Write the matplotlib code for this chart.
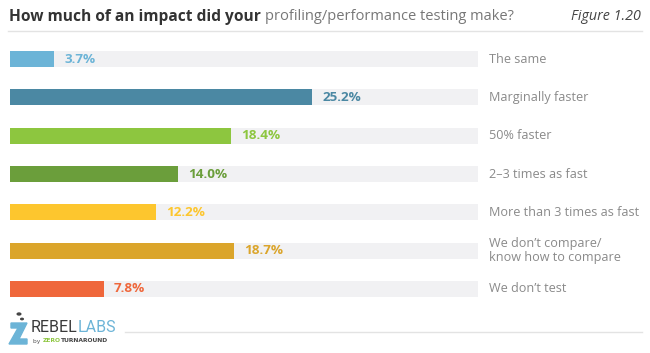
import matplotlib.pyplot as plt
from matplotlib.patches import Polygon, Circle

categories = ["The same", "Marginally faster", "50% faster", "2\u20133 times as fast",
              "More than 3 times as fast", "We don\u2019t compare/\nknow how to compare",
              "We don\u2019t test"]
values = [3.7, 25.2, 18.4, 14.0, 12.2, 18.7, 7.8]
colors = ["#6cb4d7", "#4b88a3", "#8dc63f", "#6b9e3b", "#fdc62e", "#dba52b", "#ef673b"]
track_max = 39

W, H = 650, 353
plt.rcParams['font.family'] = ['Open Sans', 'DejaVu Sans']
fig = plt.figure(figsize=(W / 100, H / 100), dpi=100)

def fx(x):
    return x / W

def fy(y):
    return 1 - y / H

ax = fig.add_axes([fx(10), fy(308), fx(468), (308 - 40) / H])
rows = range(len(values))
ax.barh(rows, [track_max] * len(values), height=0.42, color="#f1f1f3")
ax.barh(rows, values, height=0.42, color=colors)
for i, (v, c) in enumerate(zip(values, colors)):
    ax.text(v + 0.85, i, f"{v:.1f}%", color=c, fontsize=9.7, fontweight="bold",
            va="center", ha="left")
    ax.text(track_max + 0.9, i, categories[i], color="#8a8a8a", fontsize=9.1,
            va="center", ha="left", linespacing=1.1)
ax.set_xlim(0, track_max)
ax.set_ylim(len(values) - 0.5, -0.5)
ax.axis("off")

# title
t = fig.text(fx(9), fy(17), "How much of an impact did your ", fontsize=11.2,
             fontweight="bold", color="#333333", va="center")
fig.canvas.draw()
bb = t.get_window_extent()
fig.text(bb.x1 / W, fy(17), "profiling/performance testing make?", fontsize=10.5,
         color="#777777", va="center")
fig.text(fx(641), fy(17), "Figure 1.20", fontsize=10.3, style="italic",
         color="#444444", va="center", ha="right")
fig.add_artist(plt.Line2D([fx(8), fx(642)], [fy(31)] * 2, color="#e3e3e3", lw=1))
fig.add_artist(plt.Line2D([fx(125), fx(642)], [fy(332)] * 2, color="#e3e3e3", lw=1))

# logo
fig.add_artist(Polygon([(fx(9), fy(344)), (fx(18), fy(328)), (fx(11), fy(328)),
                        (fx(11), fy(323)), (fx(27), fy(323)), (fx(19), fy(339)),
                        (fx(27), fy(339)), (fx(27), fy(344))],
                       closed=True, color="#6cb4d7", transform=fig.transFigure))
fig.add_artist(Circle((fx(19), fy(314)), 1.8 / W, color="#444444", transform=fig.transFigure))
fig.add_artist(Circle((fx(22), fy(319)), 1.3 / W, color="#444444", transform=fig.transFigure))
r = fig.text(fx(31), fy(327), "REBEL", fontsize=11.5, color="#3a3a3a", va="center",
             family="Roboto")
fig.canvas.draw()
rb = r.get_window_extent()
fig.text(rb.x1 / W, fy(327), "LABS", fontsize=11.5, color="#6cb4d7", va="center",
         family="Roboto")
x0 = 33
for part, col in [("by ", "#555555"), ("ZERO", "#8dc63f"), ("TURNAROUND", "#444444")]:
    p = fig.text(fx(x0), fy(341), part, fontsize=4.3, color=col, va="center",
                 family="DejaVu Sans", fontweight="bold" if part != "by " else "normal")
    fig.canvas.draw()
    x0 = p.get_window_extent().x1 + 0.5

fig.savefig("out.png", dpi=100, facecolor="white")
